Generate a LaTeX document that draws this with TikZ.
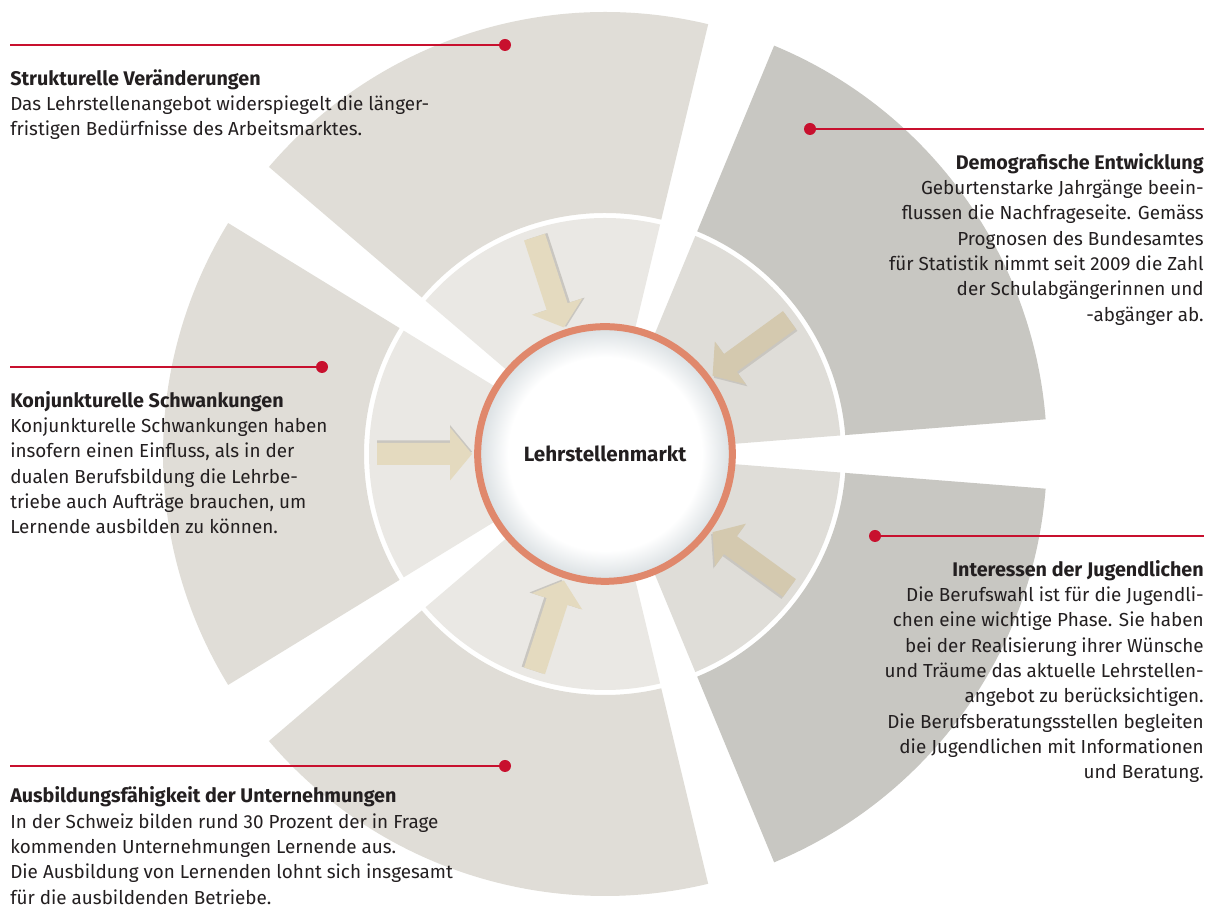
\documentclass[tikz,border=0pt]{standalone}
\usepackage{fontspec}
\setmainfont{Fira Sans}
\usetikzlibrary{positioning}

\definecolor{sektorhell}{HTML}{E0DDD7}
\definecolor{sektordunkel}{HTML}{C8C7C2}
\definecolor{ringhell}{HTML}{EAE8E4}
\definecolor{ringdunkel}{HTML}{DFDDD8}
\definecolor{pfeilhell}{HTML}{E4DABF}
\definecolor{pfeildunkel}{HTML}{D4C9AF}
\definecolor{schatten}{HTML}{C9C6C0}
\definecolor{markrot}{HTML}{C8102E}
\definecolor{ringorange}{HTML}{E0886C}
\definecolor{glanz}{HTML}{D8DEE1}
\definecolor{textgrau}{HTML}{231F20}

\pgfdeclareradialshading{marktglanz}{\pgfpoint{0bp}{0bp}}{color(0bp)=(white); color(19bp)=(white); color(25bp)=(glanz); color(50bp)=(glanz)}

\newcommand{\blocktitel}[1]{{\bfseries\fontsize{14.8}{19}\selectfont #1}}

\begin{document}
\begin{tikzpicture}[x=0.75pt, y=0.75pt,
infotext/.style={inner sep=0pt, font=\fontsize{14.15}{19}\selectfont, text=textgrau},
leader/.style={draw=markrot, line width=1.1pt},
punkt/.style={circle, fill=markrot, inner sep=0pt, minimum size=9pt},
markt/.style={circle, draw=ringorange, line width=5.25pt, minimum size=191pt, shade, shading=marktglanz, text=textgrau, font=\bfseries\fontsize{15.5}{17}\selectfont},
]
\useasboundingbox (0,0) rectangle (1215,909);
\fill[white] (0,0) rectangle (1215,909);

% sectors around the market
\begin{scope}[shift={(605,455)}]
\foreach \a/\aussen/\innen in {4.5/sektordunkel/ringdunkel, 76.5/sektorhell/ringhell, 148.5/sektorhell/ringhell, 220.5/sektorhell/ringhell, 292.5/sektordunkel/ringdunkel}{
  \pgfmathsetmacro{\b}{\a+63}
  \fill[\aussen] (\a:241) arc[start angle=\a, end angle=\b, radius=241] -- (\b:442) arc[start angle=\b, end angle=\a, radius=442] -- cycle;
  \fill[\innen] (0,0) -- (\a:236) arc[start angle=\a, end angle=\b, radius=236] -- cycle;
}
% arrows pointing inwards
\foreach \winkel/\farbe in {36/pfeildunkel, 108/pfeilhell, 180/pfeilhell, 252/pfeilhell, 324/pfeildunkel}{
  \begin{scope}[rotate=\winkel]
    \fill[schatten, shift={(0,-2.5)}] (228,11) -- (155,11) -- (155,26.5) -- (133,0) -- (155,-26.5) -- (155,-11) -- (228,-11) -- cycle;
    \fill[\farbe] (228,11) -- (155,11) -- (155,26.5) -- (133,0) -- (155,-26.5) -- (155,-11) -- (228,-11) -- cycle;
  \end{scope}
}
\end{scope}

% market node
\node[markt] (markt) at (605,455) {Lehrstellenmarkt};

% leader lines
\node[punkt]      (punktstruktur)     at (505,864) {};
\coordinate       (startstruktur)     at (10,864);
\node[punkt]      (punktdemografie)   at (810,780) {};
\coordinate       (endedemografie)    at (1204,780);
\node[punkt]      (punktkonjunktur)   at (322,542) {};
\coordinate       (startkonjunktur)   at (10,542);
\node[punkt]      (punktinteressen)   at (875,373) {};
\coordinate       (endeinteressen)    at (1204,373);
\node[punkt]      (punktausbildung)   at (505,143) {};
\coordinate       (startausbildung)   at (10,143);

\draw[leader] (startstruktur) -- (punktstruktur);
\draw[leader] (punktdemografie) -- (endedemografie);
\draw[leader] (startkonjunktur) -- (punktkonjunktur);
\draw[leader] (punktinteressen) -- (endeinteressen);
\draw[leader] (startausbildung) -- (punktausbildung);

% text blocks
\node[infotext, below=18pt of startstruktur, anchor=north west, align=left] (struktur) {\blocktitel{Strukturelle Veränderungen}\\
Das Lehrstellenangebot widerspiegelt die länger-\\
fristigen Bedürfnisse des Arbeitsmarktes.};

\node[infotext, below=18pt of endedemografie, anchor=north east, align=right] (demografie) {\blocktitel{Demografische Entwicklung}\\
Geburtenstarke Jahrgänge beein-\\
flussen die Nachfrageseite. Gemäss\\
Prognosen des Bundesamtes\\
für Statistik nimmt seit 2009 die Zahl\\
der Schulabgängerinnen und\\
-abgänger ab.};

\node[infotext, below=18pt of startkonjunktur, anchor=north west, align=left] (konjunktur) {\blocktitel{Konjunkturelle Schwankungen}\\
Konjunkturelle Schwankungen haben\\
insofern einen Einfluss, als in der\\
dualen Berufsbildung die Lehrbe-\\
triebe auch Aufträge brauchen, um\\
Lernende ausbilden zu können.};

\node[infotext, below=18pt of endeinteressen, anchor=north east, align=right] (interessen) {\blocktitel{Interessen der Jugendlichen}\\
Die Berufswahl ist für die Jugendli-\\
chen eine wichtige Phase. Sie haben\\
bei der Realisierung ihrer Wünsche\\
und Träume das aktuelle Lehrstellen-\\
angebot zu berücksichtigen.\\
Die Berufsberatungsstellen begleiten\\
die Jugendlichen mit Informationen\\
und Beratung.};

\node[infotext, below=15.5pt of startausbildung, anchor=north west, align=left] (ausbildung) {\blocktitel{Ausbildungsfähigkeit der Unternehmungen}\\
In der Schweiz bilden rund 30 Prozent der in Frage\\
kommenden Unternehmungen Lernende aus.\\
Die Ausbildung von Lernenden lohnt sich insgesamt\\
für die ausbildenden Betriebe.};
\end{tikzpicture}
\end{document}
